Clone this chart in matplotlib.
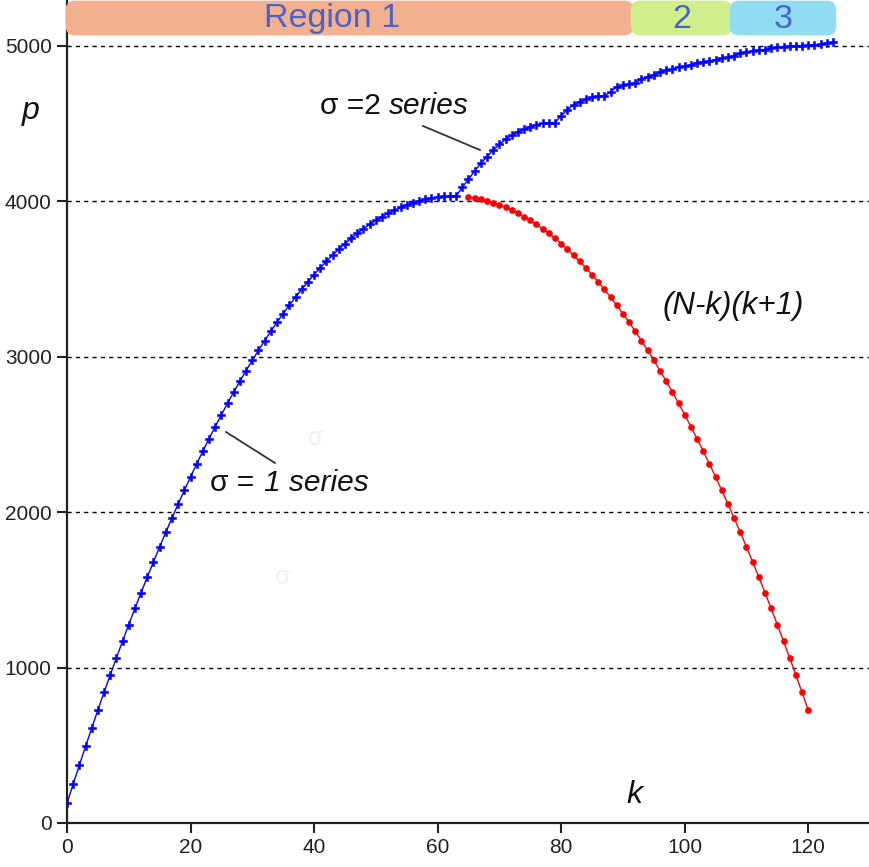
import matplotlib
matplotlib.use("Agg")
import matplotlib.pyplot as plt
from matplotlib.patches import FancyBboxPatch
from matplotlib.lines import Line2D
from matplotlib.transforms import IdentityTransform

# ---------------- data ----------------
k_sigma1 = list(range(0, 64))
p_sigma1 = [126, 250, 372, 492, 610, 726, 840, 952, 1062, 1170,
            1276, 1380, 1482, 1582, 1680, 1776, 1870, 1962, 2052, 2140,
            2226, 2310, 2392, 2472, 2550, 2626, 2700, 2772, 2842, 2910,
            2976, 3040, 3102, 3162, 3220, 3276, 3330, 3382, 3432, 3480,
            3526, 3570, 3612, 3652, 3690, 3726, 3760, 3792, 3822, 3850,
            3876, 3900, 3922, 3942, 3960, 3976, 3990, 4002, 4012, 4020,
            4026, 4030, 4032, 4032]

k_sigma2 = list(range(64, 125))
p_sigma2 = [4088, 4140, 4193, 4242, 4285, 4328, 4364, 4397, 4424, 4446,
            4463, 4478, 4491, 4500, 4504, 4504, 4550, 4585, 4618, 4639,
            4654, 4667, 4673, 4676, 4703, 4735, 4746, 4752, 4758, 4787,
            4800, 4810, 4832, 4840, 4850, 4864, 4868, 4876, 4890, 4896,
            4902, 4910, 4917, 4924, 4935, 4952, 4960, 4966, 4972, 4974,
            4984, 4988, 4993, 4995, 5000, 5000, 5001, 5004, 5008, 5016,
            5020]

k_parab = list(range(65, 121))
p_parab = [4026, 4020, 4012, 4002, 3990, 3976, 3960, 3942, 3922, 3900,
           3876, 3850, 3822, 3792, 3760, 3726, 3690, 3652, 3612, 3570,
           3526, 3480, 3432, 3382, 3330, 3276, 3220, 3162, 3102, 3040,
           2976, 2910, 2842, 2772, 2700, 2626, 2550, 2472, 2392, 2310,
           2226, 2140, 2052, 1962, 1870, 1776, 1680, 1582, 1482, 1380,
           1276, 1170, 1062, 952, 840, 726]

x_ticks = [0, 20, 40, 60, 80, 100, 120]
y_ticks = [0, 1000, 2000, 3000, 4000, 5000]
grid_levels = [1000, 2000, 3000, 4000, 5000]

region_labels = ["Region 1", "2", "3"]
region_bounds = [(0, 91.5), (91.5, 107.5), (107.5, 124.3)]
region_colors = ["#F2B08E", "#D0EF8C", "#90DCF2"]

# ---------------- figure ----------------
W, H = 870, 867
plt.rcParams['font.family'] = ['Liberation Sans', 'DejaVu Sans']
fig = plt.figure(figsize=(W / 100, H / 100), dpi=100)
fig.patch.set_facecolor("white")
ax = fig.add_axes([67 / W, 44 / H, 803 / W, 823 / H])
ax.set_xlim(0, 130)
ax.set_ylim(0, 5293)

for g in grid_levels:
    ax.axhline(g, color="black", lw=1.0, ls=(0, (3, 3)), zorder=1)

ax.plot(k_sigma1 + k_sigma2, p_sigma1 + p_sigma2, color="#0000FF", lw=1.0,
        marker="P", ms=5.6, mec="#0000FF", mfc="#0000FF", mew=0.4, zorder=3)
ax.plot(k_parab, p_parab, color="#FF0000", lw=1.0, marker="o", ms=3.8,
        mec="#FF0000", mfc="#FF0000", zorder=2)

for s in ["top", "right"]:
    ax.spines[s].set_visible(False)
for s in ["left", "bottom"]:
    ax.spines[s].set_linewidth(1.6)
    ax.spines[s].set_color("#222222")

ax.set_xticks(x_ticks)
ax.set_yticks(y_ticks)
ax.tick_params(axis="both", direction="out", length=7, width=1.5,
               labelsize=15, colors="#222222", labelcolor="#222222")
ax.tick_params(axis="y", pad=4)
ax.tick_params(axis="x", pad=4)

# ---------------- region bars ----------------
def px_x(k):
    return ax.transData.transform((k, 0))[0]

fig.canvas.draw()
bar_top = H - 2
bar_bot = H - 34
for (a, b), c in zip(region_bounds, region_colors):
    x0 = px_x(a)
    x1 = px_x(b)
    p = FancyBboxPatch((x0 + 8, bar_bot + 8), (x1 - x0) - 16, (bar_top - bar_bot) - 16,
                       boxstyle="round,pad=8", transform=IdentityTransform(),
                       facecolor=c, edgecolor=c, lw=2, zorder=5)
    fig.add_artist(p)

region_text_color = "#4A63C6"
for (a, b), lab in zip(region_bounds, region_labels):
    xc = (px_x(a) + px_x(b)) / 2
    if lab == "Region 1":
        xc = 332
    fig.text(xc / W, 1 - 19 / H, lab, ha="center", va="center",
             fontsize=24.5, color=region_text_color, zorder=6)

# ---------------- annotations ----------------
def ftext(x, y, s, **kw):
    fig.text(x / W, 1 - y / H, s, **kw)

ftext(320, 106, "σ =2", ha="left", va="center", fontsize=21.5, color="#111111")
ftext(389, 106, "series", ha="left", va="center", fontsize=21.5, style="italic", color="#111111")
ftext(210, 483, "σ =", ha="left", va="center", fontsize=21.5, color="#111111")
ftext(264, 483, "1 series", ha="left", va="center", fontsize=21.5, style="italic", color="#111111")
ftext(733, 306, "(N-k)(k+1)", ha="center", va="center", fontsize=22.5, style="italic", color="#111111")
ftext(31, 111, "p", ha="center", va="center", fontsize=23, style="italic", color="#111111")
ftext(634, 795, "k", ha="center", va="center", fontsize=23, style="italic", color="#111111")
ftext(316, 438, "σ", ha="center", va="center", fontsize=18, color="#F0F0F0")
ftext(283, 577, "σ", ha="center", va="center", fontsize=18, color="#F0F0F0")

for (x0, y0, x1, y1) in [(423, 126, 480, 150), (226, 432, 275, 463)]:
    fig.add_artist(Line2D([x0 / W, x1 / W], [1 - y0 / H, 1 - y1 / H],
                          transform=fig.transFigure, color="#333333", lw=1.3))

fig.savefig("out.png", dpi=100)
